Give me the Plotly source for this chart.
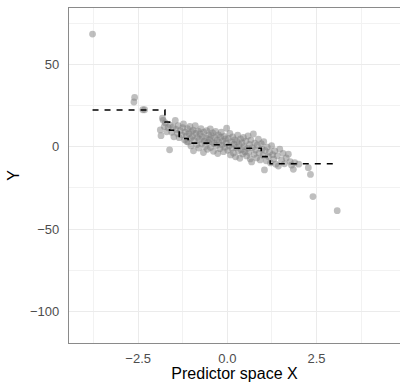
import plotly.graph_objects as go

# Observed sample: predictor X and response Y
x_obs = [
    -3.78, -2.62, -2.60, -2.37, -2.32,
    -1.88, -1.86, -1.82, -1.80, -1.77, -1.74, -1.70, -1.66, -1.62, -1.60, -1.56, -1.52, -1.50,
    -1.46, -1.44, -1.40, -1.38, -1.35, -1.32, -1.28, -1.25, -1.23, -1.20, -1.18, -1.15, -1.12,
    -1.10, -1.08, -1.05, -1.03, -1.00, -1.02, -1.14,
    -0.98, -0.96, -0.95, -0.93, -0.90, -0.88, -0.86, -0.84, -0.82, -0.80, -0.78, -0.76, -0.74,
    -0.72, -0.70, -0.67, -0.66, -0.64, -0.62, -0.60, -0.58, -0.56, -0.54, -0.52, -0.50,
    -0.48, -0.47, -0.45, -0.43, -0.41, -0.39, -0.37, -0.35, -0.33, -0.31, -0.29, -0.27, -0.25,
    -0.23, -0.21, -0.19, -0.17, -0.15, -0.13, -0.11, -0.09, -0.07, -0.05, -0.03, -0.02,
    0.01, 0.03, 0.05, 0.07, 0.09, 0.11, 0.13, 0.15, 0.17, 0.19, 0.21, 0.23, 0.25, 0.27, 0.29,
    0.31, 0.33, 0.35, 0.37, 0.39, 0.41, 0.43, 0.45, 0.47, 0.49,
    0.52, 0.54, 0.56, 0.58, 0.60, 0.62, 0.64, 0.66, 0.68, 0.70, 0.73, 0.75, 0.77, 0.79, 0.82,
    0.84, 0.87, 0.89, 0.92, 0.95, 0.97,
    1.00, 1.02, 1.04, 1.06, 1.09, 1.12, 1.15, 1.18, 1.21, 1.24, 1.27, 1.30, 1.33, 1.36, 1.40,
    1.43, 1.47,
    1.52, 1.56, 1.60, 1.65, 1.71, 1.76, 1.80, 1.85, 1.89, 2.00, 2.27, 2.33,
    2.40, 3.08,
]
y_obs = [
    68.3, 27.1, 29.9, 22.4, 22.4,
    10.2, 6.7, 17.3, 16.0, 12.2, 14.5, 9.0, 11.5, -1.9, 13.0, 8.7, 12.0, 6.0,
    15.9, 10.5, 8.0, 12.8, 5.5, 9.8, 7.2, 11.6, 13.8, 4.2, 8.8, 6.5, 10.9,
    2.8, 7.9, 12.3, 5.0, 9.2, 0.5, 3.1,
    6.3, 10.1, -2.5, 3.8, 12.8, 8.0, 1.2, 5.6, 9.5, -0.8, 4.4, 7.7, 11.0,
    2.0, 6.1, -3.5, 8.9, 3.3, 0.2, 5.2, 9.8, -1.6, 2.7, 7.0, 4.5,
    10.8, -0.5, 6.8, 3.0, 8.4, -2.8, 1.9, 5.5, 9.3, 0.8, 4.0, -4.1, 7.2,
    2.4, -1.2, 5.9, 8.8, 1.0, 3.6, -3.0, 6.3, -0.3, 4.7, 2.1, 11.2,
    -2.2, 5.0, 0.6, 8.1, -5.0, 2.9, -1.0, 6.0, -3.8, 1.5, 4.2, -6.1, -0.4, 3.0, 7.0,
    -2.5, 1.2, -7.0, 4.8, -1.8, 2.3, -4.4, 5.6, 0.0, -3.1,
    3.4, -5.6, -1.0, 6.5, -3.5, 1.4, -7.4, 4.0, -9.2, -0.6, 7.7, -4.6, 2.2, -2.0, -6.8,
    0.9, 4.6, -3.9, -8.0, 1.8, -1.5,
    -5.2, 3.0, -14.1, -2.3, -8.5, -0.2, -6.0, -3.3, -9.8, 0.6, -4.8, -7.6, -2.6, -10.6, -5.5,
    -11.7, -1.5,
    -8.2, -4.0, -10.4, -6.8, -4.5, -9.0, -11.2, -13.7, -9.6, -10.6, -12.7, -16.8,
    -30.2, -38.8,
]

# Regression-tree fit: split points and the leaf mean on each interval
split_x = [-3.78, -1.75, -1.62, -1.35, -1.10, -0.45, 0.15, 0.95, 1.20, 3.08]
leaf_y = [22.3, 15.0, 10.0, 5.0, 2.2, 1.2, -0.9, -6.0, -10.3]

step_y = leaf_y + [leaf_y[-1]]

fig = go.Figure()

fig.add_trace(go.Scatter(
    x=x_obs, y=y_obs, mode="markers",
    marker=dict(size=6.8, color="rgba(127,127,127,0.5)", line=dict(width=0)),
    hoverinfo="skip", showlegend=False,
))

fig.add_trace(go.Scatter(
    x=split_x, y=step_y, mode="lines",
    line=dict(color="black", width=1.6, dash="6px,6px", shape="hv"),
    hoverinfo="skip", showlegend=False,
))

axis_common = dict(
    showgrid=True, gridcolor="#ebebeb", gridwidth=1,
    zeroline=False, ticks="",
    tickfont=dict(family="Liberation Sans, Arial, sans-serif", size=13, color="#4d4d4d"),
    linecolor="#8a8a8a", linewidth=1.2, showline=True,
)

fig.update_layout(
    width=400, height=382,
    margin=dict(l=69, r=0, t=8, b=39),
    paper_bgcolor="white", plot_bgcolor="white",
    font=dict(family="Liberation Sans, Arial, sans-serif"),
    xaxis=dict(
        **axis_common,
        range=[-4.44, 4.84],
        tickvals=[-2.5, 0.0, 2.5], ticktext=["\u22122.5", "0.0", "2.5"],
        minor=dict(tickvals=[-3.75, -1.25, 1.25, 3.75], showgrid=True,
                   gridcolor="#f2f2f2", gridwidth=0.8),
        mirror=True,
        ticklabelstandoff=3,
        title=dict(text="Predictor space X", standoff=2,
                   font=dict(size=16, color="black")),
    ),
    yaxis=dict(
        **axis_common,
        range=[-119.0, 84.1],
        tickvals=[-100, -50, 0, 50], ticktext=["\u2212100", "\u221250", "0", "50"],
        minor=dict(tickvals=[-75, -25, 25, 75], showgrid=True,
                   gridcolor="#f2f2f2", gridwidth=0.8),
        ticklabelstandoff=6,
        title=dict(text="Y", standoff=6, font=dict(size=16, color="black")),
    ),
)

fig.write_html("out.html")
